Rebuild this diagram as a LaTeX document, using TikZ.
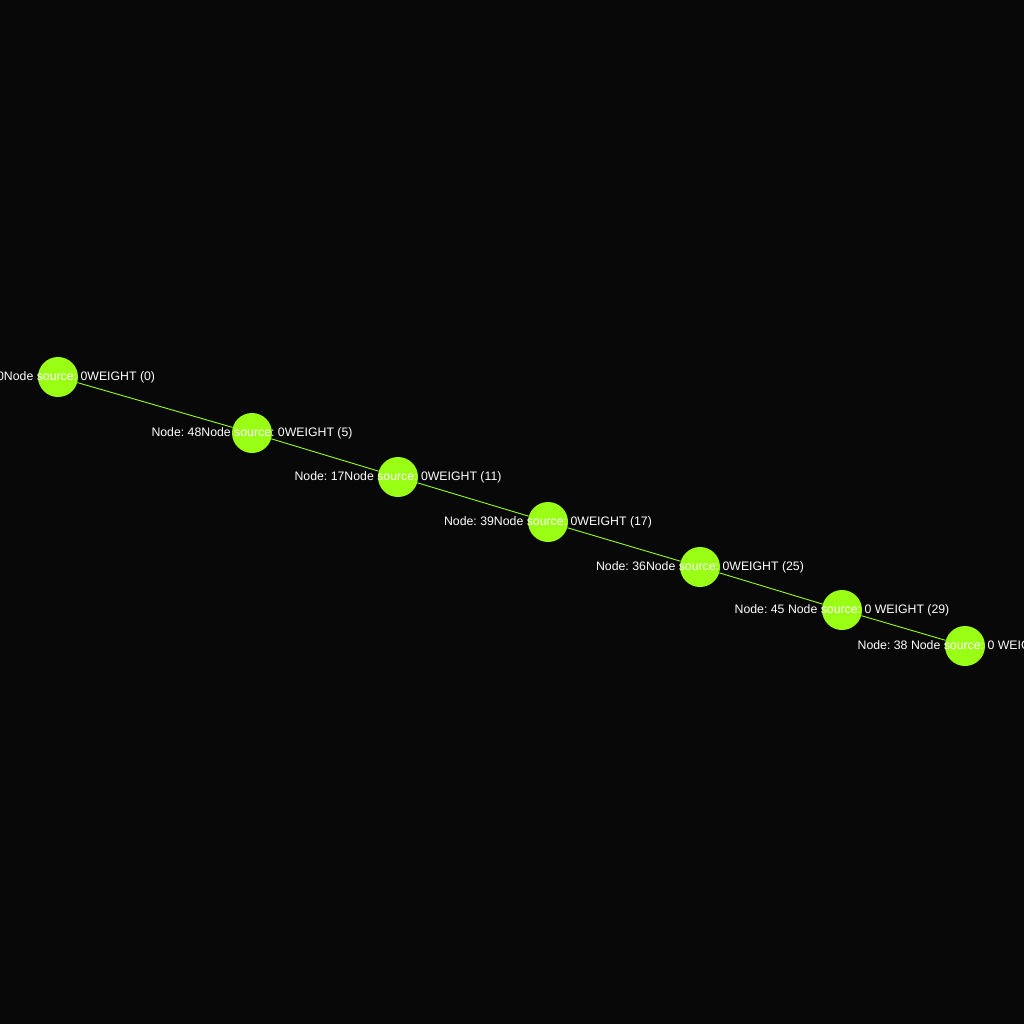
\documentclass[tikz,border=0pt]{standalone}
\usepackage{fontspec}
\setmainfont{Liberation Sans}
\frenchspacing
\definecolor{bg}{RGB}{8,8,8}
\definecolor{nodegreen}{RGB}{153,255,20}
\begin{document}
\begin{tikzpicture}[x=1pt,y=-1pt,
  gnode/.style={circle,fill=nodegreen,draw=none,minimum size=40pt,inner sep=0pt},
  glabel/.style={text=white,font=\fontsize{12.3}{13}\selectfont,inner sep=0pt},
  gedge/.style={draw=nodegreen,line width=0.9pt}]
\useasboundingbox (0,0) rectangle (1024,1024);
\fill[bg] (0,0) rectangle (1024,1024);
\clip (0,0) rectangle (1024,1024);
\node[gnode] (n0) at (58,377) {};
\node[gnode] (n48) at (252,433) {};
\node[gnode] (n17) at (398,477) {};
\node[gnode] (n39) at (548,522) {};
\node[gnode] (n36) at (700,567) {};
\node[gnode] (n45) at (842,610) {};
\node[gnode] (n38) at (965,646) {};
\draw[gedge] (n0) -- (n48);
\draw[gedge] (n48) -- (n17);
\draw[gedge] (n17) -- (n39);
\draw[gedge] (n39) -- (n36);
\draw[gedge] (n36) -- (n45);
\draw[gedge] (n45) -- (n38);
\node[glabel] (l0) at (n0) {Node: 0Node source: 0WEIGHT (0)};
\node[glabel] (l48) at (n48) {Node: 48Node source: 0WEIGHT (5)};
\node[glabel] (l17) at (n17) {Node: 17Node source: 0WEIGHT (11)};
\node[glabel] (l39) at (n39) {Node: 39Node source: 0WEIGHT (17)};
\node[glabel] (l36) at (n36) {Node: 36Node source: 0WEIGHT (25)};
\node[glabel] (l45) at (n45) {Node: 45 Node source: 0 WEIGHT (29)};
\node[glabel] (l38) at (n38) {Node: 38 Node source: 0 WEIGHT (33)};
\end{tikzpicture}
\end{document}
